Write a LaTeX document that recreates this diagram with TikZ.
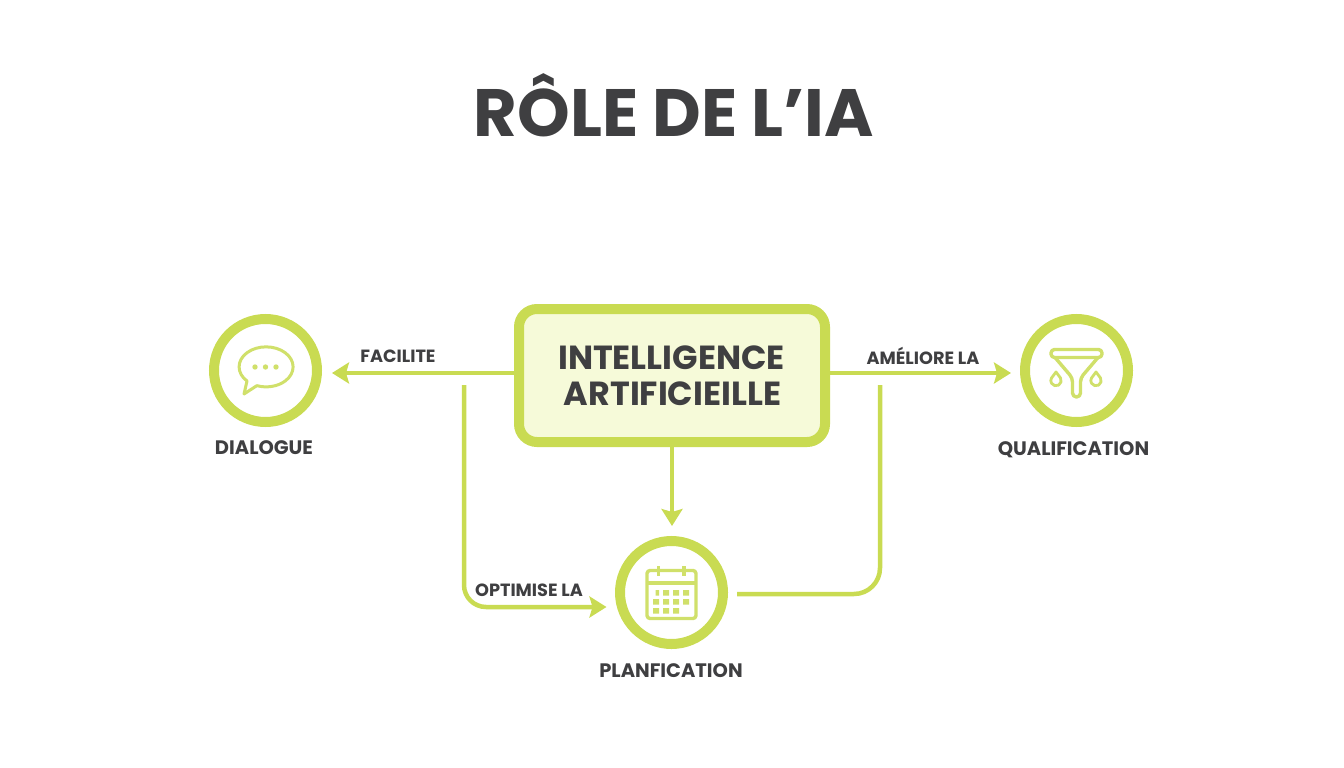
\documentclass[tikz,border=0pt]{standalone}
\usepackage{fontspec}
\setmainfont{Poppins}
\usepackage{tikz}
\usetikzlibrary{arrows.meta}
\definecolor{citron}{HTML}{C9DB52}
\definecolor{citronclair}{HTML}{F6FAD9}
\definecolor{icone}{HTML}{D0E06A}
\definecolor{encre}{HTML}{3F3F41}
\tikzset{
	rond/.style={circle,draw=citron,line width=10pt,fill=white,minimum size=103pt,inner sep=0pt},
	fleche/.style={draw=citron,line width=4.5pt,-{Stealth[length=17pt,width=21pt,inset=3pt]}},
	lien/.style={draw=citron,line width=4.5pt},
	legende/.style={text=encre,font=\fontsize{19.5}{22}\selectfont\bfseries,inner sep=0pt},
	verbe/.style={text=encre,font=\fontsize{17.7}{20}\selectfont\bfseries,inner sep=0pt},
	picto/.style={draw=icone,line width=3.4pt,line join=round}
}
\begin{document}
\begin{tikzpicture}[x=1pt,y=-1pt]
		\useasboundingbox (0,0) rectangle (1344,768);
		\node[text=encre,font=\fontsize{67}{75}\selectfont\bfseries,inner sep=0pt] (titre) at (674,105) {RÔLE DE L’IA};
		\node[draw=citron,line width=10pt,fill=citronclair,rounded corners=18pt,minimum width=306pt,minimum height=133pt,inner sep=0pt] (ia) at (672,375.5) {};
		\node[text=encre,font=\fontsize{33.4}{36}\selectfont\bfseries,inner sep=0pt] (ia-a) at (671.5,358) {INTELLIGENCE};
		\node[text=encre,font=\fontsize{33.4}{36}\selectfont\bfseries,inner sep=0pt] (ia-b) at (672.5,394) {ARTIFICIEILLE};
		\node[rond] (dialogue) at (265.5,370.5) {};
		\node[rond] (qualif) at (1076.5,370.5) {};
		\node[rond] (planif) at (671.5,592.5) {};
		\node[legende] (dialogue-t) at (264,448) {DIALOGUE};
		\node[legende] (qualif-t) at (1073.5,449.5) {QUALIFICATION};
		\node[legende] (planif-t) at (671,671) {PLANFICATION};
		\node[verbe] (facilite) at (398,356) {FACILITE};
		\node[verbe] (ameliore) at (923,356) {AMÉLIORE LA};
		\node[verbe] (optimise) at (529,590) {OPTIMISE LA};
		\coordinate (depart-g) at (464,385);
		\coordinate (depart-d) at (880,385);
		\draw[fleche] ([yshift=2.5pt]ia.west) -- ([xshift=10pt,yshift=-2.5pt]dialogue.east);
		\draw[fleche] ([yshift=2.5pt]ia.east) -- ([xshift=-9pt,yshift=-2.5pt]qualif.west);
		\draw[fleche] (ia.south) -- ([yshift=10pt]ia.south |- planif.north);
		\draw[fleche,rounded corners=22pt] (depart-g) -- (464,607) -- ([xshift=-8.5pt,yshift=-14.5pt]planif.west);
		\draw[lien,rounded corners=26pt] ([xshift=9pt,yshift=-1.5pt]planif.east) -- (880,594) -- (depart-d);
		% bulle
		\draw[picto,line width=3pt] (247,381) arc (135:470:27 and 20) -- (244,394) -- cycle;
		\fill[icone] (255,367) circle (2.7) (265.5,367) circle (2.7) (276,367) circle (2.7);
		% entonnoir
		\draw[picto,rounded corners=3.5pt] (1051,349.5) rectangle (1102,357.5);
		\draw[picto,rounded corners=4pt] (1055,357.5) -- (1072.5,378) -- (1072.5,397) -- (1080.5,397) -- (1080.5,378) -- (1098,357.5);
		\draw[picto,line width=2.8pt] (1056,372) -- (1060.5,378) arc (-30:210:5.2) -- cycle;
		\draw[picto,line width=2.8pt] (1096,372) -- (1100.5,378) arc (-30:210:5.2) -- cycle;
		% calendrier
		\draw[picto,rounded corners=3pt] (647,570.5) rectangle (696,618.5);
		\draw[picto] (647,583) -- (696,583);
		\draw[picto] (658.5,566) -- (658.5,576);
		\draw[picto] (684,566) -- (684,576);
		\fill[icone] (655.5,590) rectangle +(3.5,5.5) (663,590) rectangle +(6,5.5) (673,590) rectangle +(6,5.5) (683,590) rectangle +(6,5.5);
		\fill[icone] (653,599) rectangle +(6,5.5) (663,599) rectangle +(6,5.5) (673,599) rectangle +(6,5.5) (683,599) rectangle +(6,5.5);
		\fill[icone] (653,608) rectangle +(6,5.5) (663,608) rectangle +(6,5.5) (673,608) rectangle +(6,5.5);
\end{tikzpicture}
\end{document}
